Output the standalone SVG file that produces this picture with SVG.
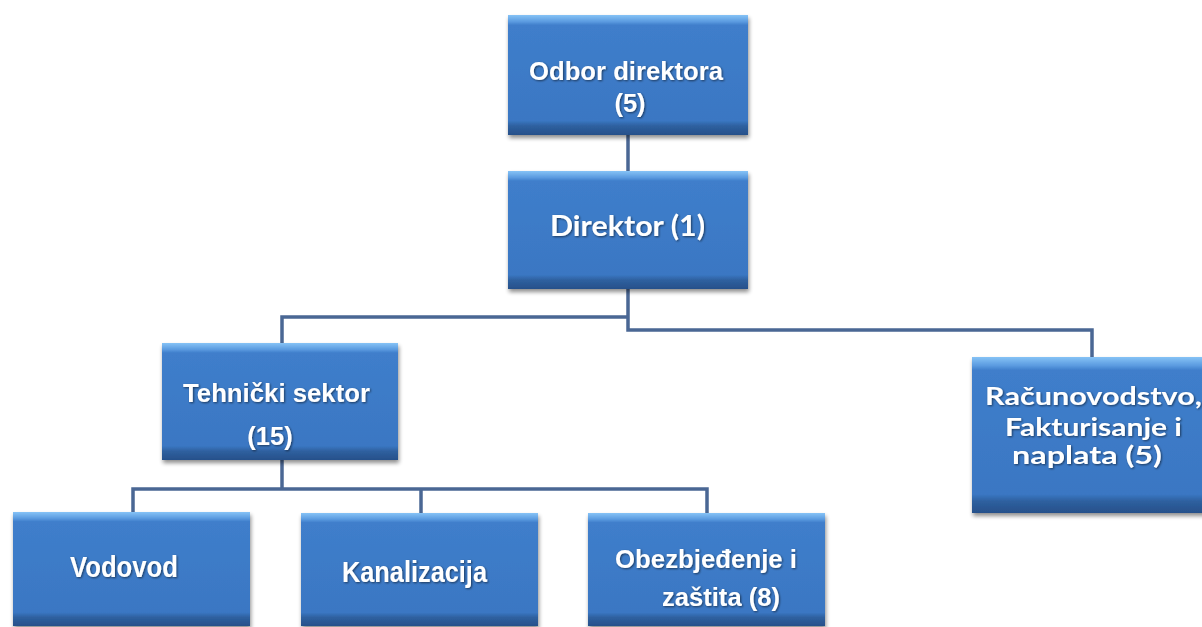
<svg xmlns="http://www.w3.org/2000/svg" width="1202" height="627" viewBox="0 0 1202 627">
  <defs>
    <!-- bevelled blue fill: light top edge, dark bottom edge -->
    <linearGradient id="boxFill" x1="0" y1="0" x2="0" y2="1">
      <stop offset="0" stop-color="#86c3f6"/>
      <stop offset="0.055" stop-color="#5b9be0"/>
      <stop offset="0.085" stop-color="#3f7ecb"/>
      <stop offset="0.88" stop-color="#3a77c3"/>
      <stop offset="0.925" stop-color="#2e609f"/>
      <stop offset="1" stop-color="#27508a"/>
    </linearGradient>
    <filter id="drop" x="-10%" y="-10%" width="125%" height="130%">
      <feGaussianBlur in="SourceAlpha" stdDeviation="2"/>
      <feOffset dx="1" dy="3" result="b"/>
      <feComponentTransfer><feFuncA type="linear" slope="0.45"/></feComponentTransfer>
      <feMerge><feMergeNode/><feMergeNode in="SourceGraphic"/></feMerge>
    </filter>
    <filter id="txtShadow" x="-5%" y="-20%" width="110%" height="150%">
      <feGaussianBlur in="SourceAlpha" stdDeviation="0.8"/>
      <feOffset dx="1" dy="1.2"/>
      <feComponentTransfer><feFuncA type="linear" slope="0.55"/></feComponentTransfer>
      <feMerge><feMergeNode/><feMergeNode in="SourceGraphic"/></feMerge>
    </filter>
  </defs>
  <style>
    .box { fill: url(#boxFill); filter: url(#drop); }
    .lbl { fill: #ffffff; font-weight: bold; text-anchor: middle; filter: url(#txtShadow); }
    .arial { font-family: "Liberation Sans", Arial, sans-serif; }
    .cal { font-family: Lato, "Open Sans", sans-serif; }
    .conn { fill: none; stroke: #4a6794; stroke-width: 3.5; stroke-linejoin: miter; }
  </style>

  <rect width="1202" height="627" fill="#ffffff"/>

  <g id="connectors">
    <path class="conn" d="M628,134 V172"/>
    <path class="conn" d="M628,289 V330 H1092 V357"/>
    <path class="conn" d="M628,317 H282 V343"/>
    <path class="conn" d="M282,459 V489"/>
    <path class="conn" d="M133,512 V489 H707 V513"/>
    <path class="conn" d="M421,489 V513"/>
  </g>

  <g id="odbor-direktora">
    <rect class="box" x="508" y="15" width="240" height="120"/>
    <text class="lbl arial" x="626" y="80" font-size="25.5" textLength="194" lengthAdjust="spacingAndGlyphs">Odbor direktora</text>
    <text class="lbl arial" x="630" y="112" font-size="25.5">(5)</text>
  </g>

  <g id="direktor">
    <rect class="box" x="508" y="171" width="240" height="118"/>
    <text class="lbl cal" x="627.5" y="236" font-size="28" textLength="155" lengthAdjust="spacingAndGlyphs">Direktor (1)</text>
  </g>

  <g id="tehnicki-sektor">
    <rect class="box" x="162" y="343" width="236" height="117"/>
    <text class="lbl arial" x="276.5" y="402" font-size="25.5" textLength="187" lengthAdjust="spacingAndGlyphs">Tehnički sektor</text>
    <text class="lbl arial" x="270" y="445" font-size="25.5">(15)</text>
  </g>

  <g id="racunovodstvo">
    <rect class="box" x="972" y="357" width="240" height="156"/>
    <text class="lbl cal" x="985" y="405" font-size="25" style="text-anchor:start" textLength="217" lengthAdjust="spacingAndGlyphs">Računovodstvo,</text>
    <text class="lbl cal" x="1093.5" y="436" font-size="25" textLength="177" lengthAdjust="spacingAndGlyphs">Fakturisanje i</text>
    <text class="lbl cal" x="1087" y="464" font-size="25" textLength="150" lengthAdjust="spacingAndGlyphs">naplata (5)</text>
  </g>

  <g id="vodovod">
    <rect class="box" x="13" y="512" width="237" height="114"/>
    <text class="lbl arial" x="124" y="577" font-size="30" textLength="108" lengthAdjust="spacingAndGlyphs">Vodovod</text>
  </g>

  <g id="kanalizacija">
    <rect class="box" x="301" y="513" width="237" height="113"/>
    <text class="lbl arial" x="414.5" y="582" font-size="30" textLength="145" lengthAdjust="spacingAndGlyphs">Kanalizacija</text>
  </g>

  <g id="obezbjedjenje">
    <rect class="box" x="588" y="513" width="237" height="113"/>
    <text class="lbl arial" x="706" y="568" font-size="25" textLength="182" lengthAdjust="spacingAndGlyphs">Obezbjeđenje i</text>
    <text class="lbl arial" x="721" y="606" font-size="25" textLength="118" lengthAdjust="spacingAndGlyphs">zaštita  (8)</text>
  </g>
</svg>
